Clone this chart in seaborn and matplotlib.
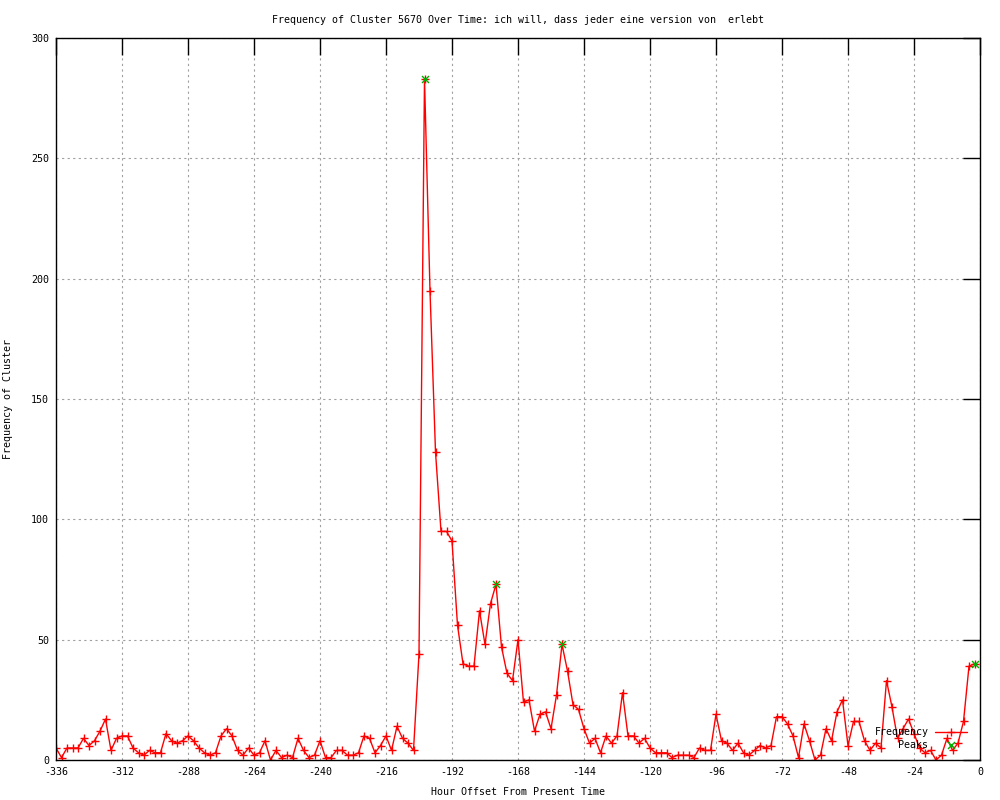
import numpy as np
import pandas as pd
import seaborn as sns
import matplotlib.pyplot as plt

# data: cluster frequency every 2 hours, from -336 h up to -2 h
hours = list(range(-336, 0, 2))
freq = [
    5, 1, 5, 5, 5, 9, 6, 8, 12, 17, 4, 9, 10, 10, 5, 3, 2, 4, 3, 3,
    11, 8, 7, 8, 10, 8, 5, 3, 2, 3, 10, 13, 10, 4,
    2, 5, 2, 3, 8, 0, 4, 1, 2, 1, 9, 4, 1, 2, 8, 1, 1, 4, 4, 2,
    2, 3, 10, 9, 3, 6, 10, 4, 14, 9, 7, 4,
    44, 283, 195, 128, 95, 95, 91, 56, 40, 39, 39, 62, 48, 65, 73, 47,
    36, 33, 50, 24, 25, 12, 19, 20, 13, 27, 48, 37, 23, 21, 13, 7,
    9, 3, 10, 7, 10, 28, 10, 10, 7, 9, 5, 3, 3, 3, 1, 2, 2, 2,
    1, 5, 4, 4, 19, 8, 7, 4, 7, 3, 2, 4, 6, 5, 6, 18, 18, 15,
    10, 1, 15, 8, 0, 2, 13, 8, 20, 25, 6, 16, 16, 8, 4, 7, 5, 33,
    22, 9, 13, 17, 11, 5, 3, 4, 0, 2, 9, 4, 7, 16, 39, 40,
]
peak_hours = [-202, -176, -152, -2]
peak_values = [283, 73, 48, 40]

df = pd.DataFrame({"hour": hours, "freq": freq})
peaks = pd.DataFrame({"hour": peak_hours, "freq": peak_values})

sns.set_style("white")
plt.rcParams['font.family'] = ['DejaVu Sans Mono']
plt.rcParams['font.size'] = 7.2
plt.rcParams['axes.unicode_minus'] = False
plt.rcParams['text.color'] = 'black'
plt.rcParams['xtick.color'] = 'black'
plt.rcParams['ytick.color'] = 'black'
plt.rcParams['axes.labelcolor'] = 'black'

fig = plt.figure(figsize=(10, 8), dpi=100)
ax = fig.add_axes([0.056, 0.05, 0.924, 0.9025])

sns.lineplot(data=df, x="hour", y="freq", ax=ax, color="#ff0000",
             linewidth=1, marker="+", markersize=6, markeredgewidth=1,
             markeredgecolor="#ff0000", label="Frequency")
sns.scatterplot(data=peaks, x="hour", y="freq", ax=ax, color="#00b000",
                marker="x", s=25, linewidth=1, label="Peaks", zorder=3)

ax.set_xlim(-336, 0)
ax.set_ylim(0, 300)
ax.set_xticks(range(-336, 1, 24))
ax.set_yticks(range(0, 301, 50))

ax.grid(True, color="#a0a0a0", linestyle=(0, (2, 3)), linewidth=0.8)
for s in ax.spines.values():
    s.set_color("black")
    s.set_linewidth(1)
ax.tick_params(direction="in", length=12, width=1, top=True, right=True,
               pad=5, labelsize=7.2)

ax.set_title("Frequency of Cluster 5670 Over Time: ich will, dass jeder eine version von  erlebt",
             fontsize=7.2, pad=11)
ax.set_xlabel("Hour Offset From Present Time", fontsize=7.2)
ax.set_ylabel("Frequency of Cluster", fontsize=7.2)
ax.xaxis.set_label_coords(0.5, -0.037)
ax.yaxis.set_label_coords(-0.047, 0.5)

ax.legend(loc="lower right", bbox_to_anchor=(0.994, 0.004), frameon=False,
          markerfirst=False, handlelength=3.2, handletextpad=0.7,
          labelspacing=0.3, borderpad=0.2, fontsize=7.2)

fig.savefig("out.png", dpi=100)
